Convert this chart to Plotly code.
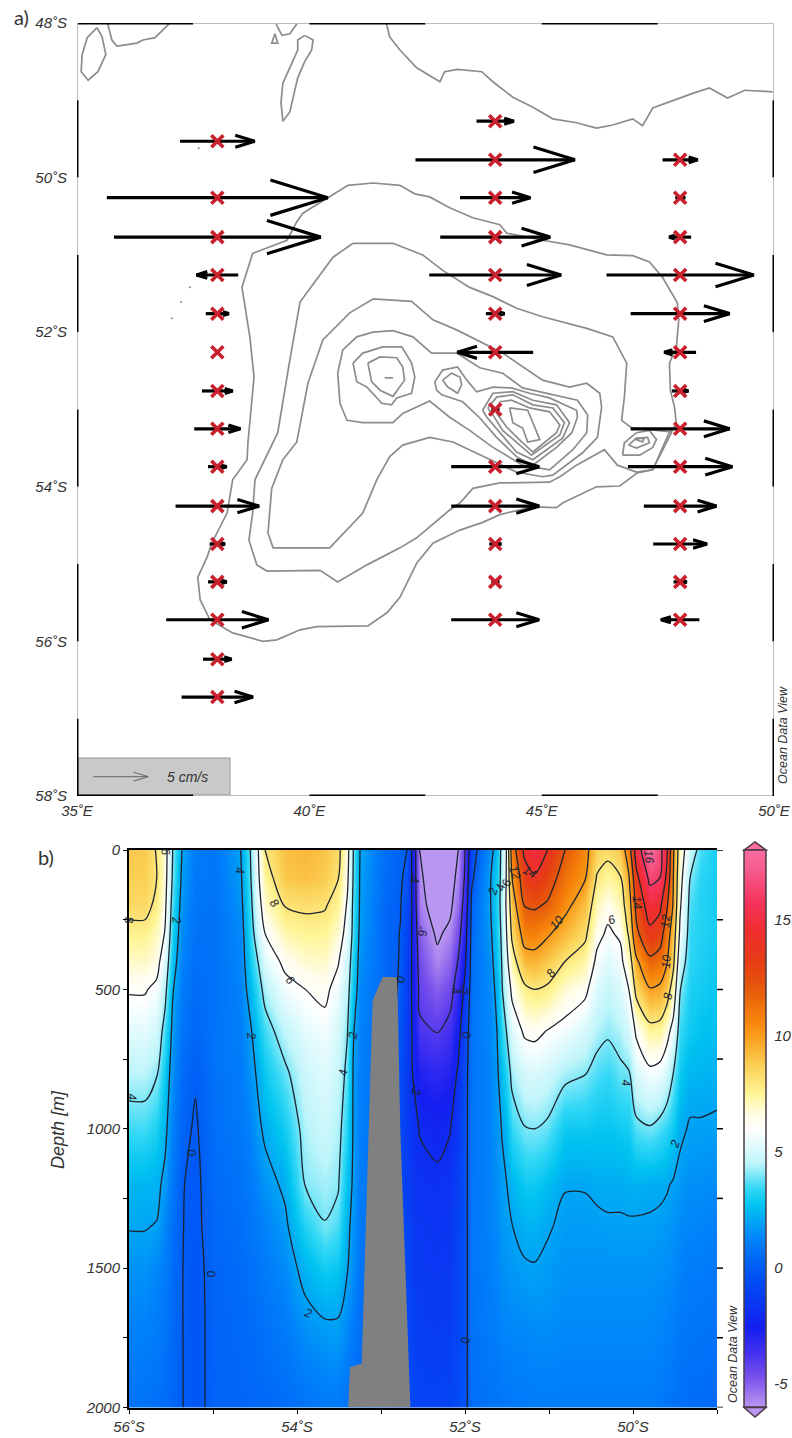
import plotly.graph_objects as go

W, H = 792, 1438

# ---------- panel a: bathymetric isolines (degrees E, degrees S) ----------
iso_a_lon = [35.43,35.54,35.62,35.45,35.24,35.09,35.11,35.22,35.43]
iso_a_lat = [48.06,48.18,48.41,48.63,48.74,48.63,48.41,48.19,48.06]
iso_b_lon = [35.65,35.67,35.75,35.86,36.29,36.42,36.68,36.96,37.0]
iso_b_lat = [48.0,48.03,48.22,48.30,48.26,48.22,48.19,48.03,48.0]
iso_c_lon = [39.26,39.32,39.19,39.26]
iso_c_lat = [48.14,48.26,48.26,48.14]
iso_d_lon = [39.28,39.30,39.41,39.58,39.71,39.74]
iso_d_lat = [48.0,48.03,48.16,48.14,48.03,48.0]
iso_e_lon = [39.90,40.08,40.05,39.90,39.75,39.58,39.43,39.39,39.43,39.65,39.75,39.75,39.90]
iso_e_lat = [48.16,48.22,48.35,48.50,48.71,49.15,49.27,49.03,48.78,48.50,48.35,48.22,48.16]
iso_f_lon = [41.65,41.67,41.73,41.95,42.31,42.66,42.81,42.91,43.19,43.71,43.95,44.38,44.81,45.24,45.75,46.18,46.53,46.96,47.17,47.39,47.82,48.25,48.61,49.0,49.37,49.97]
iso_f_lat = [48.0,48.03,48.18,48.35,48.58,48.70,48.76,48.63,48.60,48.63,48.76,48.96,49.09,49.24,49.29,49.36,49.32,49.24,49.33,49.10,49.0,48.91,48.84,48.97,48.87,48.89]
iso_g_lon = [40.40,40.83,41.37,41.95,42.27,42.59,43.02,43.52,44.10,44.25,45.02,45.60,46.40,46.96,47.32,47.60,47.92,47.95,47.90,47.75,47.77,47.86,47.90,47.75,47.39,47.06,46.68,46.18,45.45,45.32,44.81,44.10,43.73,43.24,42.66,42.31,41.95,41.67,41.26,40.16,39.80,39.30,39.00,38.35,37.86,37.65,37.60,37.80,37.90,38.23,38.35,38.66,38.68,38.81,38.72,38.55,38.78,39.52,39.73,39.86,40.40]
iso_g_lat = [50.26,50.10,50.07,50.10,50.21,50.25,50.39,50.52,50.61,50.72,50.81,50.87,51.00,51.01,51.09,51.29,51.62,51.84,52.19,52.40,52.75,52.97,53.20,53.29,53.78,53.82,53.99,54.00,54.21,54.27,54.26,54.36,54.46,54.56,54.73,54.99,55.43,55.63,55.80,55.81,55.85,55.98,56.00,55.89,55.72,55.46,55.17,54.91,54.73,54.34,53.91,53.65,53.42,52.58,52.06,51.42,50.98,50.81,50.57,50.46,50.26]
iso_h_lon = [40.94,41.80,42.44,42.87,43.45,43.95,44.46,45.02,45.97,46.53,46.83,46.78,46.72,46.94,47.80,47.39,47.04,46.63,46.35,45.75,45.39,45.17,44.10,43.52,43.24,43.02,42.31,41.95,41.24,40.61,40.23,39.09,38.87,38.70,38.78,38.83,39.32,39.47,39.58,39.80,40.51,40.94]
iso_h_lat = [50.85,50.85,51.00,51.20,51.42,51.54,51.69,51.80,51.95,52.06,52.40,52.84,53.14,53.24,53.29,53.78,53.81,53.72,53.52,53.72,53.87,53.94,53.95,54.02,54.21,54.30,54.66,54.79,55.01,55.23,55.08,55.09,55.01,54.69,54.34,53.91,53.30,52.75,52.36,51.61,51.03,50.85]
iso_i_lon = [41.37,42.20,42.66,43.17,44.16,45.02,45.60,45.97,46.25,46.29,46.20,45.88,45.24,45.02,44.46,44.03,43.52,43.09,42.59,42.01,41.73,41.45,41.15,40.81,40.44,39.22,39.11,39.19,39.43,39.73,39.97,40.29,40.87,41.37]
iso_i_lat = [51.57,51.60,51.84,51.97,52.27,52.62,52.71,52.66,52.79,52.97,53.36,53.56,53.85,53.87,53.81,53.69,53.55,53.42,53.36,53.46,53.61,53.91,54.34,54.56,54.79,54.79,54.60,54.02,53.65,53.42,52.66,52.10,51.75,51.57]
iso_j_lon = [40.61,40.72,41.02,41.37,41.80,42.23,42.63,43.17,43.67,44.16,44.59,45.11,45.77,45.99,45.97,45.67,45.17,44.59,43.95,43.45,43.02,42.59,42.01,41.80,41.15,40.81,40.66,40.61]
iso_j_lat = [52.53,52.23,52.06,52.00,51.98,52.06,52.27,52.27,52.46,52.53,52.72,52.79,52.88,53.07,53.30,53.52,53.78,53.72,53.49,53.27,53.10,52.89,53.05,53.17,53.17,53.14,52.92,52.53]
iso_k_lon = [40.94,41.15,41.58,41.99,42.20,42.27,42.20,41.88,41.77,41.56,41.24,41.02,40.94]
iso_k_lat = [52.40,52.27,52.19,52.19,52.40,52.58,52.79,52.85,52.94,52.92,52.71,52.64,52.40]
iso_l_lon = [41.26,41.52,41.88,42.01,42.05,41.80,41.52,41.34,41.26]
iso_l_lat = [52.40,52.32,52.33,52.45,52.62,52.83,52.75,52.64,52.40]
iso_m_lon = [41.62,41.80]
iso_m_lat = [52.59,52.59]
iso_n_lon = [42.70,42.87,43.19,43.39,43.60,43.95,44.35,44.74,45.17,45.75,45.77,45.65,45.32,44.81,44.46,44.03,43.67,43.30,42.85,42.74,42.70]
iso_n_lat = [52.64,52.49,52.45,52.62,52.77,52.71,52.72,52.79,52.85,53.01,53.10,53.30,53.49,53.72,53.61,53.36,53.11,52.90,52.81,52.75,52.64]
iso_o_lon = [43.73,43.95,44.38,44.81,45.32,45.60,45.45,44.81,44.46,44.10,43.82,43.73]
iso_o_lat = [53.01,52.79,52.77,52.88,52.94,53.17,53.37,53.65,53.55,53.30,53.10,53.01]
iso_p_lon = [43.84,44.03,44.38,44.81,45.24,45.49,45.39,44.78,44.53,44.16,43.95,43.84]
iso_p_lat = [52.98,52.84,52.81,52.94,52.98,53.17,53.33,53.59,53.46,53.27,53.07,52.98]
iso_q_lon = [44.10,44.35,44.74,45.17,45.39,45.32,44.81,44.57,44.25,44.03,44.10]
iso_q_lat = [52.90,52.88,52.98,53.03,53.20,53.30,53.55,53.42,53.23,53.05,52.90]
iso_r_lon = [44.31,44.70,44.96,44.70,44.59,44.38,44.31]
iso_r_lat = [52.98,53.01,53.39,53.42,53.24,53.17,52.98]
iso_s_lon = [42.87,43.06,43.24,43.28,43.19,42.98,42.87]
iso_s_lat = [52.62,52.53,52.58,52.68,52.79,52.71,52.62]
iso_t_lon = [46.74,46.78,47.04,47.32,47.47,47.39,47.11,46.74]
iso_t_lat = [53.59,53.43,53.30,53.27,53.39,53.49,53.59,53.59]
iso_u_lon = [46.87,47.04,47.28,47.32,47.04,46.87]
iso_u_lat = [53.46,53.37,53.36,53.43,53.50,53.46]
iso_v_lon = [47.00,47.21,47.17,47.00]
iso_v_lat = [53.38,53.37,53.42,53.38]
isolines = [(iso_a_lon,iso_a_lat),(iso_b_lon,iso_b_lat),(iso_c_lon,iso_c_lat),(iso_d_lon,iso_d_lat),
            (iso_e_lon,iso_e_lat),(iso_f_lon,iso_f_lat),(iso_g_lon,iso_g_lat),(iso_h_lon,iso_h_lat),
            (iso_i_lon,iso_i_lat),(iso_j_lon,iso_j_lat),(iso_k_lon,iso_k_lat),(iso_l_lon,iso_l_lat),
            (iso_m_lon,iso_m_lat),(iso_n_lon,iso_n_lat),(iso_o_lon,iso_o_lat),(iso_p_lon,iso_p_lat),
            (iso_q_lon,iso_q_lat),(iso_r_lon,iso_r_lat),(iso_s_lon,iso_s_lat),(iso_t_lon,iso_t_lat),
            (iso_u_lon,iso_u_lat),(iso_v_lon,iso_v_lat)]
speck_lon = [37.62,37.43,37.24,37.04]
speck_lat = [49.62,51.42,51.61,51.82]

# ---------- panel a: stations and zonal speed (cm/s, + = eastward) ----------
st38_lat = [49.53,50.26,50.77,51.26,51.76,52.26,52.76,53.25,53.74,54.25,54.74,55.23,55.72,56.23,56.72]
st38_u   = [6.8,20.1,18.8,-3.8,2.1,0,2.8,4.2,1.7,7.6,1.4,1.7,9.3,2.6,6.5]
st44_lat = [49.27,49.77,50.26,50.77,51.26,51.76,52.26,53.0,53.74,54.25,54.74,55.23,55.72]
st44_u   = [3.4,14.5,6.4,10.0,12.0,1.7,-6.9,0.7,8.0,8.0,1.1,0.7,8.0]
st48_lat = [49.77,50.26,50.77,51.26,51.76,52.26,52.76,53.25,53.74,54.25,54.74,55.23,55.72]
st48_u   = [3.2,0.9,-2.0,13.4,9.0,-2.9,1.5,9.0,9.5,6.6,4.9,1.2,-3.5]
section_lons = [38.02,44.0,47.98]
DEG_PER_CMS = 0.2366
ref_speed = 5.0
ref_lon, ref_lat = 35.94, 57.75

lon_ticks = [35,40,45,50]
lon_labels = ['35˚E','40˚E','45˚E','50˚E']
lat_ticks = [48,50,52,54,56,58]
lat_labels = ['48˚S','50˚S','52˚S','54˚S','56˚S','58˚S']

# ---------- panel b: section ----------
sec_lat = [56.00,55.81,55.67,55.57,55.48,55.37,55.21,54.98,54.67,54.54,54.46,54.38,54.14,53.90,53.67,53.51,53.40,53.33,53.25,52.95,52.77,52.69,52.63,52.54,52.33,52.18,52.08,52.00,51.92,51.70,51.62,51.56,51.51,51.44,51.29,51.17,51.02,50.81,50.57,50.43,50.30,50.15,50.05,49.96,49.80,49.68,49.60,49.52,49.44,49.32,49.20,49.00]
sec_depth = [0,100,200,300,400,500,650,800,1000,1200,1350,1500,1700,2000]
sec_columns = [
 [8.9,8.7,8.4,7.6,6.9,6.1,5.3,4.5,3.5,2.4,2.05,1.6,1.2,.7],
 [8.8,8.7,8.4,7.6,6.9,6.1,5.3,4.5,3.5,2.4,2.05,1.6,1.2,.7],
 [7.9,8.0,7.7,7.0,6.5,5.7,4.9,4.1,3.1,2.3,1.95,1.3,1.0,.6],
 [6.7,6.6,6.3,5.9,5.1,4.4,3.5,2.9,2.3,1.7,1.3,1.0,.8,.5],
 [4.0,3.8,3.4,3.0,2.6,2.1,1.7,1.4,1.1,.8,.6,.5,.4,.3],
 [2.0,1.8,1.6,1.4,1.2,1.0,.8,.5,.25,.05,.03,.02,.02,.02],
 [1.0,.9,.8,.7,.6,.5,.35,.08,-.1,-.2,-.2,-.25,-.25,-.2],
 [.8,.8,.7,.7,.7,.7,.7,.7,.6,.5,.4,.3,.25,.2],
 [2.0,1.8,1.6,1.4,1.3,1.2,1.1,1.0,.9,.7,.6,.5,.4,.3],
 [4.3,4.15,3.9,3.6,3.2,2.7,2.0,1.7,1.3,1.0,.8,.7,.5,.3],
 [6.0,5.8,5.4,4.8,4.05,3.5,2.8,2.2,1.8,1.3,1.0,.8,.6,.4],
 [8.0,7.4,6.8,6.0,5.2,4.4,3.5,2.9,2.2,1.6,1.2,1.0,.7,.4],
 [9.1,8.9,8.05,7.2,6.3,5.6,4.6,3.8,3.0,2.2,1.8,1.4,1.0,.5],
 [9.3,9.1,8.2,7.5,6.8,6.0,5.3,4.8,4.4,4.05,3.2,2.4,1.6,.7],
 [9.0,8.8,8.1,7.5,6.9,6.3,5.6,5.2,4.8,4.3,3.95,3.0,1.9,.9],
 [8.4,8.05,7.5,6.8,6.1,5.5,5.0,4.7,4.4,4.1,3.6,2.8,1.9,.9],
 [6.6,6.3,5.8,5.4,4.9,4.5,4.05,3.7,3.2,2.7,2.3,2.05,1.4,.7],
 [4.0,3.9,3.7,3.6,3.2,2.9,2.1,1.9,1.9,1.8,1.6,1.5,1.0,.5],
 [2.0,1.9,1.85,1.7,1.5,1.3,1.2,1.1,1.1,1.0,.9,.8,.6,.4],
 [.6,.5,.4,.4,.4,.4,.4,.4,.3,.3,.3,.3,.3,.3],
 [.3,.15,.05,-.03,-.05,-.1,-.3,-.5,-.7,-.7,-.6,-.5,-.5,-.4],
 [0,-.3,-.6,-.9,-1.0,-1.1,-1.2,-1.3,-1.3,-1.2,-1.0,-.9,-.8,-.6],
 [-2.2,-2.2,-2.1,-2.1,-2.1,-2.1,-2.05,-1.95,-1.6,-1.5,-1.3,-1.2,-1.0,-.8],
 [-6.0,-5.8,-5.6,-5.0,-4.6,-4.3,-3.8,-2.9,-2.05,-1.7,-1.5,-1.4,-1.2,-1.0],
 [-6.8,-6.8,-6.6,-6.2,-5.7,-5.0,-4.05,-3.2,-2.3,-1.8,-1.6,-1.5,-1.3,-1.0],
 [-6.6,-6.5,-6.3,-5.7,-5.1,-4.5,-3.6,-2.9,-2.05,-1.6,-1.5,-1.4,-1.2,-.9],
 [-6.0,-5.7,-5.2,-4.6,-3.9,-3.3,-2.5,-1.8,-1.4,-1.1,-1.0,-.9,-.8,-.6],
 [-4.0,-3.8,-3.3,-2.8,-2.3,-1.6,-.8,-.5,-.45,-.4,-.4,-.4,-.35,-.3],
 [-.6,-.2,.3,.5,.6,.7,.8,.8,.8,.8,.8,.8,.7,.6],
 [1.5,1.9,1.9,1.7,1.5,1.4,1.3,1.25,1.25,1.2,1.2,1.1,1.0,.7],
 [2.6,3.0,3.2,3.0,2.7,2.3,2.0,1.8,1.6,1.5,1.4,1.3,1.1,.7],
 [4.5,4.5,4.5,4.3,4.1,3.9,3.3,2.6,2.05,1.8,1.7,1.5,1.3,.8],
 [5.8,6.0,6.1,5.8,5.4,4.9,3.95,3.2,2.4,1.95,1.8,1.6,1.3,.8],
 [11.0,10.0,9.0,8.3,7.3,6.3,5.2,4.3,3.4,2.4,1.98,1.7,1.4,.9],
 [14.4,13.2,12.05,10.7,9.3,7.7,6.2,5.0,3.95,2.9,2.3,1.9,1.4,.9],
 [15.2,13.8,12.2,10.8,9.4,8.0,6.3,5.1,4.0,2.9,2.3,1.95,1.5,1.0],
 [14.0,12.9,11.8,10.2,8.9,7.8,5.95,4.9,3.8,2.6,2.1,1.8,1.5,1.0],
 [12.0,11.2,10.4,9.3,8.0,6.8,5.6,4.3,2.9,2.05,1.8,1.6,1.4,1.0],
 [10.6,10.1,9.1,8.3,7.3,6.3,5.0,4.05,2.9,2.05,1.8,1.6,1.4,1.0],
 [8.6,7.9,7.1,6.4,5.7,5.1,4.4,3.6,2.8,2.2,1.8,1.6,1.4,1.0],
 [8.4,7.4,6.4,5.8,5.2,4.7,4.15,3.4,2.8,2.2,1.9,1.6,1.4,1.0],
 [8.9,7.9,7.1,6.2,5.6,5.1,4.4,3.8,2.9,2.2,1.9,1.6,1.4,1.0],
 [11.0,9.8,9.0,8.2,7.0,6.0,5.0,3.9,3.0,2.3,1.9,1.6,1.4,1.0],
 [15.0,13.5,12.5,11.6,9.7,8.5,6.2,5.1,3.7,2.3,1.9,1.6,1.4,1.0],
 [18.0,16.4,14.9,13.6,11.6,9.9,7.5,5.7,3.9,2.2,1.9,1.6,1.4,1.0],
 [16.6,16.0,14.4,12.9,11.2,9.7,7.4,5.5,3.6,2.2,1.8,1.55,1.3,.9],
 [14.5,13.7,12.3,11.0,10.2,8.9,6.6,4.9,3.3,2.1,1.7,1.5,1.2,.8],
 [10.2,10.0,9.8,9.0,8.4,7.2,5.4,4.0,2.9,1.9,1.6,1.4,1.1,.7],
 [7.0,6.6,6.2,5.7,4.8,4.05,3.4,2.9,2.2,1.7,1.4,1.2,.9,.6],
 [4.8,4.0,3.6,3.4,3.3,3.1,2.9,2.4,1.9,1.5,1.3,1.0,.8,.5],
 [3.6,3.3,3.2,3.2,3.1,3.0,2.7,2.4,1.9,1.5,1.3,1.0,.8,.5],
 [3.0,3.0,3.0,3.0,2.9,2.8,2.6,2.3,1.85,1.4,1.1,.9,.7,.4],
]
sea_lat = [53.39,53.37,53.23,53.15,53.10,52.98,52.81,52.80,52.77,52.65]
sea_depth = [2000,1856,1842,1005,539,456,456,549,1005,2000]

sec_lat_ticks = [56,55,54,53,52,51,50,49]
sec_lat_labels = ['56˚S','','54˚S','','52˚S','','50˚S','']
depth_ticks = [0,250,500,750,1000,1250,1500,1750,2000]
depth_labels = ['0','','500','','1000','','1500','','2000']
bar_ticks = [-5,0,5,10,15]
bar_labels = ['-5','0','5','10','15']

scale_z = [-6,-4.7,-3.7,-2.6,-.4,1.2,2.7,3.4,4.5,5.9,6.5,7.5,8.7,9.9,10.7,12,13.2,14.6,15.7,17.1,18]
scale_col = ['rgb(185,150,240)','rgb(120,80,235)','rgb(70,50,240)','rgb(20,30,240)','rgb(0,80,245)','rgb(0,130,250)',
             'rgb(0,195,240)','rgb(50,215,245)','rgb(190,245,250)','rgb(255,255,255)','rgb(255,253,235)','rgb(255,245,150)',
             'rgb(250,208,85)','rgb(250,160,30)','rgb(245,130,10)','rgb(230,90,10)','rgb(230,60,20)','rgb(240,45,50)',
             'rgb(245,50,90)','rgb(245,90,140)','rgb(250,110,160)']

# contour labels: (lat S, depth m, text, angle)
iso_labels = [
 (55.57,5,'6',80),(56.0,250,'8',85),(55.43,250,'2',85),(54.68,75,'4',85),(54.27,190,'8',50),(54.08,465,'6',45),
 (54.55,665,'2',85),(53.33,665,'2',-85),(53.45,800,'4',-85),(55.96,885,'4',85),(52.60,100,'-4',85),(52.51,290,'-6',85),
 (52.77,465,'0',-85),(52.58,860,'-2',85),(55.26,1085,'0',80),(55.02,1520,'0',80),(53.87,1660,'2',20),
 (51.67,150,'2',-75),(51.58,135,'4',-80),(51.50,120,'6',-80),(51.41,80,'12',70),(51.23,80,'14',30),(50.90,260,'10',-50),
 (50.98,440,'8',-55),(50.26,250,'6',-20),(49.81,25,'16',85),(49.95,190,'14',85),(49.61,255,'12',-85),(49.61,400,'10',-85),
 (49.58,525,'8',-80),(50.08,835,'4',85),(52.12,500,'-4',80),(52.02,500,'-2',80),(51.99,665,'0',85),(49.5,1055,'2',-70),
 (51.99,1760,'0',85),
]

def arrow_paths(lons, lats, speeds, k=DEG_PER_CMS):
    xs, ys = [], []
    for lon, lat, u in zip(lons, lats, speeds):
        if u == 0:
            continue
        d = u * k
        tail, head = lon - d / 2, lon + d / 2
        back = head - 0.26 * d
        half = 0.08 * abs(d) * 46.5 / 77.3
        xs += [tail, head, None, back, head, back, None]
        ys += [-lat, -lat, None, -lat + half, -lat, -lat - half, None]
    return xs, ys

fig = go.Figure()

# panel a
for lon, lat in isolines:
    fig.add_trace(go.Scatter(x=lon, y=[-v for v in lat], mode='lines', xaxis='x', yaxis='y',
                             line=dict(color='#8c8c8c', width=1.7), showlegend=False, hoverinfo='skip'))
fig.add_trace(go.Scatter(x=speck_lon, y=[-v for v in speck_lat], mode='markers', xaxis='x', yaxis='y',
                         marker=dict(color='#888888', size=2), showlegend=False, hoverinfo='skip'))

st_lons, st_lats, st_us = [], [], []
for lon0, lats, us in zip(section_lons, [st38_lat, st44_lat, st48_lat], [st38_u, st44_u, st48_u]):
    st_lons += [lon0] * len(lats)
    st_lats += lats
    st_us += us
ax, ay = arrow_paths(st_lons, st_lats, st_us)
fig.add_trace(go.Scatter(x=ax, y=ay, mode='lines', xaxis='x', yaxis='y',
                         line=dict(color='black', width=3.2), connectgaps=False, showlegend=False, hoverinfo='skip'))
fig.add_trace(go.Scatter(x=st_lons, y=[-v for v in st_lats], mode='markers', xaxis='x', yaxis='y',
                         marker=dict(symbol='x-thin', size=12, line=dict(color='#c8202c', width=3.6)),
                         showlegend=False, hoverinfo='skip'))
rx, ry = arrow_paths([ref_lon], [ref_lat], [ref_speed])
fig.add_trace(go.Scatter(x=rx, y=ry, mode='lines', xaxis='x', yaxis='y',
                         line=dict(color='#666666', width=1), showlegend=False, hoverinfo='skip'))

# panel b
colorscale = [[(z + 6) / 24, c] for z, c in zip(scale_z, scale_col)]
sec_x = [-v for v in sec_lat]
z_rows = [[col[i] for col in sec_columns] for i in range(len(sec_depth))]
fig.add_trace(go.Heatmap(x=sec_x, y=sec_depth, z=z_rows, xaxis='x2', yaxis='y2', zsmooth='best',
                         zmin=-6, zmax=18, colorscale=colorscale, hoverinfo='skip',
                         colorbar=dict(x=744 / W, xanchor='left', xpad=0, ypad=0, y=1 - 850 / H, yanchor='top',
                                       lenmode='pixels', len=557, thicknessmode='pixels', thickness=22,
                                       outlinecolor='#4a3a44', outlinewidth=1.5, tickvals=bar_ticks, ticktext=bar_labels,
                                       ticks='outside', ticklen=5, tickcolor='rgba(0,0,0,0)',
                                       tickfont=dict(family='Liberation Sans', size=15, color='#333333', style='italic'))))
fig.add_trace(go.Contour(x=sec_x, y=sec_depth, z=z_rows, xaxis='x2', yaxis='y2', showscale=False,
                         contours=dict(coloring='none', start=-6, end=16, size=2),
                         line=dict(color='#1c2430', width=1.3, smoothing=0.8), hoverinfo='skip'))
fig.add_trace(go.Scatter(x=[-v for v in sea_lat], y=sea_depth, mode='lines', fill='toself', xaxis='x2', yaxis='y2',
                         fillcolor='#808080', line=dict(color='#808080', width=0), showlegend=False, hoverinfo='skip'))

def px(x): return x / W
def py(y): return 1 - y / H

shapes, annos = [], []

# panel a frame: alternating black / grey
def seg(x0, y0, x1, y1, black):
    shapes.append(dict(type='line', xref='x', yref='y', x0=x0, y0=y0, x1=x1, y1=y1, layer='above',
                       line=dict(color='black' if black else '#bdbdbd', width=3 if black else 2)))
for i in range(6):
    for yy in (-48, -58):
        seg(35 + 2.5 * i, yy, 37.5 + 2.5 * i, yy, i % 2 == 0)
for i in range(10):
    for xx in (35, 50):
        seg(xx, -48 - i, xx, -49 - i, i % 2 == 1)

# scale box
shapes.insert(0, dict(type='rect', xref='paper', yref='paper', x0=px(78), x1=px(230), y0=py(795), y1=py(758),
                      fillcolor='#c9c9c9', line=dict(color='#9a9a9a', width=1), layer='below'))

# colour bar end caps
def cap(y_base, y_tip, col):
    shapes.append(dict(type='path', xref='paper', yref='paper', fillcolor=col, layer='above',
                       line=dict(color='#4a3a44', width=1.5),
                       path=f'M {px(744)} {py(y_base)} L {px(755)} {py(y_tip)} L {px(766)} {py(y_base)} Z'))
cap(850, 842, scale_col[-1])
cap(1407.5, 1417, scale_col[0])

# right-hand depth ticks of panel b
for d in depth_ticks:
    shapes.append(dict(type='line', xref='paper', yref='y2', x0=px(717), x1=px(723), y0=d, y1=d,
                       line=dict(color='black', width=1.5)))

def text(x, y, s, size, angle=0, color='#333333', family='Liberation Sans', style='italic'):
    annos.append(dict(xref='paper', yref='paper', x=px(x), y=py(y), text=s, showarrow=False, textangle=angle,
                      xanchor='center', yanchor='middle',
                      font=dict(family=family, size=size, color=color, style=style)))

text(21, 17, 'a)', 20, family='Lato', style='normal')
text(46, 857, 'b)', 20, family='Lato', style='normal')
text(187, 777, '5 cm/s', 14)
text(783, 735, 'Ocean Data View', 12.5, angle=-90)
text(733, 1354, 'Ocean Data View', 12.5, angle=-90)
text(58, 1130, 'Depth [m]', 18, angle=-90)

for lat, depth, s, angle in iso_labels:
    annos.append(dict(xref='x2', yref='y2', x=-lat, y=depth, text=s, showarrow=False, textangle=angle,
                      font=dict(family='Liberation Sans', size=12, color='#1c2430', style='italic')))

tick_font = dict(family='Liberation Sans', size=15, color='#333333', style='italic')
fig.update_layout(
    width=W, height=H, margin=dict(l=0, r=0, t=0, b=0, pad=0, autoexpand=False), paper_bgcolor='white', plot_bgcolor='white',
    showlegend=False, hovermode=False, shapes=shapes, annotations=annos,
    xaxis=dict(domain=[px(77), px(774)], range=[35, 50], tickvals=lon_ticks, ticktext=lon_labels, tickfont=tick_font,
               showgrid=False, zeroline=False, showline=False, ticks='outside', ticklen=1, tickcolor='rgba(0,0,0,0)'),
    yaxis=dict(domain=[py(796), py(23)], range=[-58, -48], tickvals=[-v for v in lat_ticks], ticktext=lat_labels,
               tickfont=tick_font, showgrid=False, zeroline=False, showline=False, ticks='outside', ticklen=6,
               tickcolor='rgba(0,0,0,0)'),
    xaxis2=dict(domain=[px(129), px(717)], range=[-56, -49], tickvals=[-v for v in sec_lat_ticks],
                ticktext=sec_lat_labels, tickfont=tick_font, anchor='y2', showgrid=False, zeroline=False,
                showline=True, linecolor='black', linewidth=2, mirror=True, ticks='outside', ticklen=4,
                tickcolor='black'),
    yaxis2=dict(domain=[py(1407.5), py(850)], range=[2000, 0], tickvals=depth_ticks, ticktext=depth_labels,
                tickfont=tick_font, anchor='x2', showgrid=False, zeroline=False, showline=True, linecolor='black',
                linewidth=2, ticks='outside', ticklen=4, tickcolor='black'),
)

fig.write_html('out.html', config={'displayModeBar': False},
               post_script="document.body.style.margin='0';document.body.style.overflow='hidden';")
